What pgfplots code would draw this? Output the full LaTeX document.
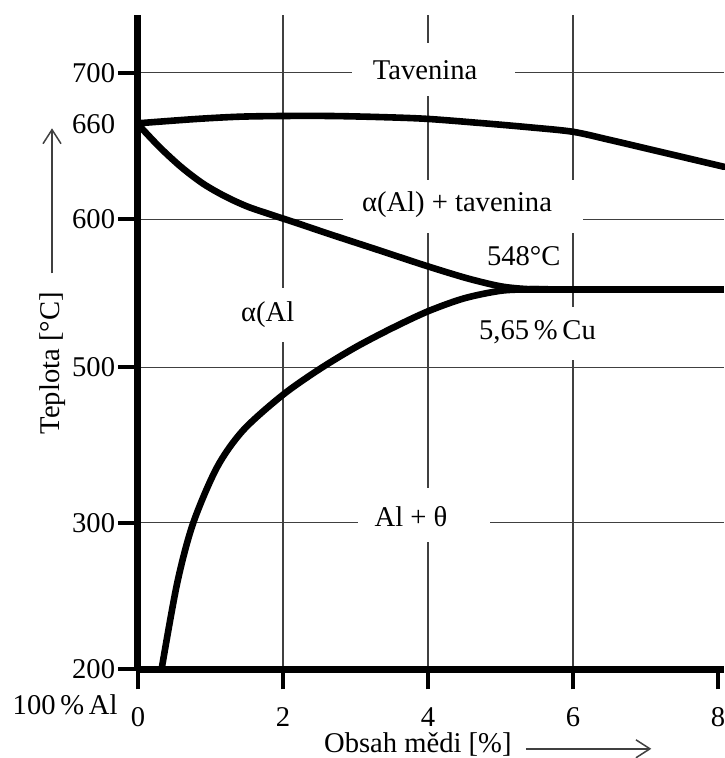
\documentclass[border=0pt]{standalone}
\usepackage{pgfplots}
\pgfplotsset{compat=1.18}
\usepackage{fontspec}
\setmainfont{Liberation Serif}
\usetikzlibrary{arrows.meta}
\begin{document}
\fontsize{14.3bp}{17bp}\selectfont
\begin{tikzpicture}
\begin{axis}[
  x=36.25bp, y=0.5bp,
  xmin=0, xmax=8.0828, ymin=0, ymax=654,
  axis x line*=bottom, axis y line*=left,
  axis line style={line width=3.5bp, -},
  xtick={0,2,4,6}, xticklabels={0,2,4,6},
  extra x ticks={8}, extra x tick labels={8}, extra x tick style={grid=none},
  ytick={0,146.6,302,450,596.6}, yticklabels={200,300,500,600,700},
  extra y ticks={545}, extra y tick labels={660},
  extra y tick style={grid=none, major tick style={draw=none}},
  xticklabel style={yshift=-4bp},
  yticklabel style={xshift=3.5bp},
  tick align=outside, major tick length=10bp,
  tick style={line width=2bp, black},
  grid=major,
  major grid style={line width=0.75bp, black!75},
  clip=false,
  /pgf/number format/assume math mode=true,
]
% white boxes interrupting the grid
\node[fill=white, minimum width=81.5bp, minimum height=26.5bp, inner sep=0pt] at (axis cs:4.069,599.8) {};
\node[fill=white, minimum width=120bp, minimum height=26.5bp, inner sep=0pt] at (axis cs:4.483,462.8) {};
\node[fill=white, minimum width=75bp, minimum height=26.5bp, inner sep=0pt] at (axis cs:5.51,335.8) {};
\node[fill=white, minimum width=45bp, minimum height=27bp, inner sep=0pt] at (axis cs:1.79,354.3) {};
\node[fill=white, minimum width=66bp, minimum height=27bp, inner sep=0pt] at (axis cs:3.945,154.3) {};
% liquidus
\addplot[line width=3.3bp, smooth, line cap=round] coordinates {
 (0,546) (0.8,550.3) (1.4,552.6) (2,553.3) (2.65,553.3) (3.3,552.3) (3.97,550.5) (4.72,546.3) (5.4,542) (6.0,537.5) (6.5,529.5) (7.0,521) (8.083,502.5)};
% solidus
\addplot[line width=3.3bp, smooth, line cap=round] coordinates {
 (0,545) (0.3,522) (0.6,502) (0.9,485.5) (1.2,473) (1.5,463) (1.8,455.5) (2.2,446) (2.65,435) (3.3,419.6) (3.97,403.6) (4.54,391) (5.0,383) (5.35,380.3) (5.65,380)};
% solvus
\addplot[line width=3.3bp, smooth, line cap=round] coordinates {
 (0.325,0) (0.54,86) (0.76,146) (1.09,202) (1.45,239) (1.99,274) (2.5,300) (3.0,322) (3.5,341) (4.0,358) (4.5,371) (5.0,378.5) (5.4,380) (5.65,380)};
% eutectic line
\addplot[line width=3.3bp] coordinates {(5.3,380) (8.083,380)};
% labels
\node at (axis cs:3.96,599.3) {Tavenina};
\node at (axis cs:4.40,464.3) {α(Al) + tavenina};
\node at (axis cs:5.32,413) {548°C};
\node at (axis cs:5.51,337) {5,65\,\%\,Cu};
\node at (axis cs:1.79,354.3) {α(Al};
\node at (axis cs:3.766,152.3) {Al + θ};
\node[rotate=90] at (axis cs:-1.172,306) {Teplota [°C]};
\draw[line width=0.75bp, black!75, -{Straight Barb[length=7bp,width=9bp]}] (axis cs:-1.186,396) -- (axis cs:-1.186,541);
\node[inner sep=1bp] at (axis cs:3.86,-75.5) {Obsah mědi [\%]};
\draw[line width=0.75bp, black!75, -{Straight Barb[length=7bp,width=9bp]}] (axis cs:5.35,-79.5) -- (axis cs:7.08,-79.5);
\node[anchor=east, inner sep=0pt] at (axis cs:-0.276,-35.7) {100\,\%\,Al};
\coordinate (bbSW) at (axis cs:-1.9034,-88.7);
\coordinate (bbNE) at (axis cs:8.0828,669.3);
\end{axis}
\pgfresetboundingbox
\path (bbSW) rectangle (bbNE);
\end{tikzpicture}
\end{document}
